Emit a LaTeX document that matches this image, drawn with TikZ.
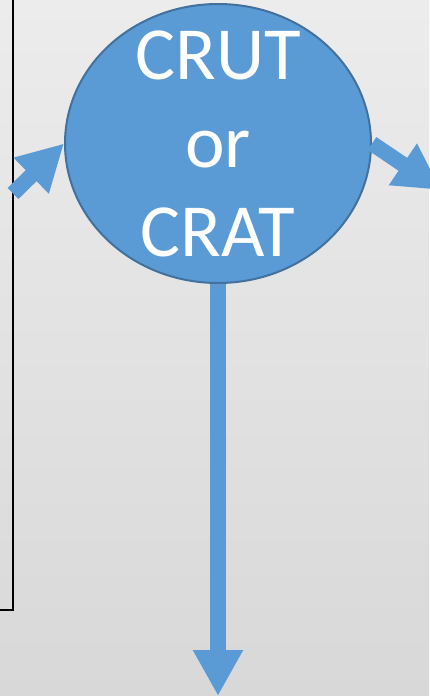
\documentclass[tikz,border=0pt]{standalone}
\usepackage{fontspec}
\setmainfont{Carlito}
\usetikzlibrary{shapes.geometric,arrows.meta}
\definecolor{trustfill}{RGB}{91,155,213}
\definecolor{trustline}{RGB}{65,113,156}
\definecolor{bgtop}{RGB}{236,236,236}
\definecolor{bgbot}{RGB}{216,216,216}
\begin{document}
\begin{tikzpicture}[x=1pt,y=-1pt,
  trust/.style={ellipse, draw=trustline, fill=trustfill, line width=2pt,
    minimum width=306pt, minimum height=279pt, inner sep=0pt},
  trusttext/.style={text=white, align=center, inner sep=0pt,
    font=\fontsize{75}{88.5}\selectfont},
  blockarrow/.style={color=trustfill, line width=15.5pt,
    -{Triangle[length=46pt,width=47pt]}},
  panel/.style={draw=black, line width=1.5pt}]
\useasboundingbox (0,0) rectangle (429,696);
% background
\shade[top color=bgtop, bottom color=bgbot] (0,0) rectangle (429,696);
% panel edge on the left
\coordinate (paneltop) at (13,-5);
\coordinate (panelcorner) at (13,610);
\coordinate (panelleft) at (-5,610);
\draw[panel] (paneltop) -- (panelcorner) -- (panelleft);
% trust node and its label
\node[trust] (crut) at (218,143.5) {};
\node[trusttext] (crutlabel) at (crut.center) {CRUT\\or\\CRAT};
% connectors
\coordinate (inflow) at (13,193.5);
\coordinate (outflow) at (441,190);
\coordinate (remainder) at (218,696);
\draw[blockarrow] (inflow) -- (crut.west);
\draw[blockarrow] (crut.east) -- (outflow);
\draw[blockarrow] (crut.south) -- (remainder);
\end{tikzpicture}
\end{document}
